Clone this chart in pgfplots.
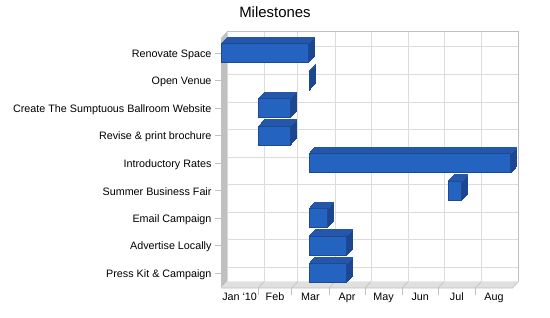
\documentclass[border=0pt]{standalone}
\usepackage{fontspec}
\setmainfont{Liberation Sans}
\usepackage{pgfplots}
\usepackage{pgfplotstable}
\pgfplotsset{compat=1.18}
\definecolor{frontc}{HTML}{2563C0}
\definecolor{topc}{HTML}{2457A9}
\definecolor{sidec}{HTML}{1C4790}
\definecolor{edgec}{HTML}{1C4A96}
\definecolor{gridc}{HTML}{DCDCDC}
\definecolor{wallc}{HTML}{C0C0C0}
\definecolor{floorc}{HTML}{E0E0E0}
\definecolor{tickc}{HTML}{C0C0C0}

% row: 8 = Renovate Space (top) ... 0 = Press Kit (bottom); start/dur in days from 1 Jan 2010
\pgfplotstableread{
row start dur
8 0 73
7 73 0.5
6 31 27
5 31 27
4 73 169
3 189 12
2 73 16
1 73 32
0 73 32
}\milestones

\begin{document}
\begin{tikzpicture}
\begin{axis}[
  at={(221bp,30bp)}, anchor=south west,
  scale only axis, width=291.6bp, height=250bp,
  xmin=0, xmax=243, ymin=-0.53, ymax=8.56,
  axis line style={draw=none},
  clip=false,
  tick align=outside, major tick length=6bp,
  tick pos=left,
  tick style={tickc, line width=0.9bp},
  xtick={0,31,59,90,120,151,181,212,243},
  xticklabels={},
  xtick style={draw=none},
  extra x ticks={15.5,45,74.5,105,135.5,166,196.5,227.5},
  extra x tick labels={Jan `10,Feb,Mar,Apr,May,Jun,Jul,Aug},
  extra x tick style={grid=none, major tick length=0pt, tick style={draw=none}},
  ytick={0,...,8},
  yticklabels={Press Kit \& Campaign,Advertise Locally,Email Campaign,Summer Business Fair,Introductory Rates,Revise \& print brochure,Create The Sumptuous Ballroom Website,Open Venue,Renovate Space},
  tick label style={font=\fontsize{10.8}{12}\selectfont, black},
  xticklabel style={yshift=-1.5bp},
  yticklabel style={yshift=-1bp},
  grid=major,
  grid style={gridc, line width=0.8bp, xshift=6bp, yshift=6.5bp},
]
% walls
\draw[wallc, line width=0.8bp] ([shift={(6bp,6.5bp)}]axis cs:0,8.56) -- ([shift={(6bp,6.5bp)}]axis cs:243,8.56) -- ([shift={(6bp,6.5bp)}]axis cs:243,-0.53);
\fill[wallc] (axis cs:0,-0.53) -- (axis cs:0,8.56) -- ([shift={(6bp,6.5bp)}]axis cs:0,8.56) -- ([shift={(6bp,6.5bp)}]axis cs:0,-0.53) -- cycle;
\fill[floorc] (axis cs:0,-0.53) -- ([shift={(6bp,6.5bp)}]axis cs:0,-0.53) -- ([shift={(6bp,6.5bp)}]axis cs:243,-0.53) -- (axis cs:243,-0.53) -- cycle;
\draw[wallc, line width=0.6bp] (axis cs:0,-0.53) -- (axis cs:243,-0.53) -- ([shift={(6bp,6.5bp)}]axis cs:243,-0.53);
\pgfplotsinvokeforeach{31,59,90,120,151,181,212}{
  \draw[tickc, line width=0.6bp] (axis cs:#1,-0.53) -- ++(6bp,6.5bp);
  \draw[tickc, line width=0.8bp] (axis cs:#1,-0.53) -- ++(0,-22bp);
}
% bar extrusions (side)
\pgfplotsinvokeforeach{1,...,13}{
  \addplot[draw=none, mark=none, forget plot,
    error bars/.cd, x dir=plus, x explicit, error mark=none,
    error bar style={draw=sidec, line width=20bp, xshift=#1*0.4615bp, yshift=#1*0.5bp}]
    table[x=start, y=row, x error=dur] {\milestones};
}
% bar extrusions (top)
\pgfplotsinvokeforeach{1,...,13}{
  \addplot[draw=none, mark=none, forget plot,
    error bars/.cd, x dir=plus, x explicit, error mark=none,
    error bar style={draw=topc, line width=1.2bp, xshift=#1*0.4615bp, yshift=9.4bp+#1*0.5bp}]
    table[x=start, y=row, x error=dur] {\milestones};
}
% front faces
\addplot[draw=none, mark=none, forget plot,
    error bars/.cd, x dir=plus, x explicit, error mark=none,
    error bar style={draw=edgec, line width=20bp}]
    table[x=start, y=row, x error=dur] {\milestones};
\addplot[draw=none, mark=none, forget plot,
    error bars/.cd, x dir=plus, x explicit, error mark=none,
    error bar style={draw=frontc, line width=18bp}]
    table[x expr=\thisrow{start}+0.85, y=row, x error expr={max(\thisrow{dur}-1.7,0)}] {\milestones};
\end{axis}
\node[font=\fontsize{15}{18}\selectfont] at (275bp,306bp) {Milestones};
\pgfresetboundingbox
\useasboundingbox (0,0) rectangle (550bp,318bp);
\end{tikzpicture}
\end{document}
